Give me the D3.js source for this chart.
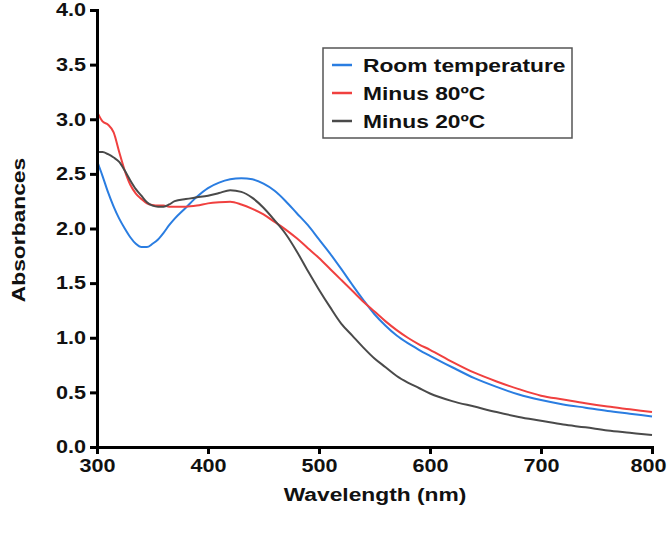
<!DOCTYPE html>
<html>
<head>
<meta charset="utf-8">
<script src="https://cdn.jsdelivr.net/npm/d3@7"></script>
<style>
  html, body { margin: 0; padding: 0; background: #fff; }
  svg { display: block; }
  text { font-family: "Liberation Sans", Arial, sans-serif; font-weight: bold; fill: #111; }
</style>
</head>
<body>
<svg id="chart" width="669" height="535"></svg>
<script>
// ---- data ----
const wavelengths = [300,305,310,315,320,325,330,335,340,345,350,355,360,365,370,380,390,400,410,420,430,440,450,460,470,480,490,500,510,520,530,540,550,560,570,580,590,600,620,640,660,680,700,720,740,760,780,800];
const roomTemperature = [2.62,2.48,2.33,2.20,2.09,2.00,1.92,1.86,1.83,1.83,1.86,1.90,1.96,2.03,2.09,2.19,2.29,2.37,2.42,2.45,2.46,2.45,2.41,2.345,2.25,2.14,2.03,1.90,1.77,1.63,1.485,1.345,1.215,1.11,1.02,0.95,0.89,0.835,0.73,0.63,0.55,0.48,0.43,0.39,0.36,0.33,0.305,0.28];
const minus80 = [3.07,2.98,2.95,2.88,2.70,2.53,2.40,2.32,2.27,2.23,2.215,2.21,2.21,2.20,2.20,2.20,2.21,2.23,2.24,2.245,2.22,2.18,2.13,2.06,1.99,1.91,1.82,1.73,1.63,1.53,1.43,1.33,1.24,1.15,1.07,1.00,0.94,0.89,0.78,0.68,0.60,0.53,0.47,0.435,0.40,0.37,0.345,0.32];
const minus20 = [2.70,2.70,2.68,2.65,2.61,2.53,2.44,2.36,2.30,2.24,2.21,2.20,2.20,2.22,2.25,2.27,2.285,2.30,2.325,2.35,2.335,2.28,2.19,2.075,1.95,1.79,1.61,1.44,1.28,1.13,1.02,0.91,0.81,0.73,0.65,0.59,0.54,0.49,0.42,0.37,0.32,0.275,0.24,0.205,0.18,0.15,0.13,0.11];
const seriesNames = ["Room temperature", "Minus 80ºC", "Minus 20ºC"];
const seriesColors = ["#2a7de1", "#f0403f", "#4a4a4a"];
const xTicks = [300,400,500,600,700,800];
const yTicks = [0,0.5,1,1.5,2,2.5,3,3.5,4];

const series = [roomTemperature, minus80, minus20].map((vals, i) => ({
  name: seriesNames[i], color: seriesColors[i],
  points: wavelengths.map((w, j) => ({w: w, a: vals[j]}))
}));

// ---- layout ----
const SX = 1.2; // horizontal text stretch seen in the reference
const svg = d3.select("#chart");
const x = d3.scaleLinear().domain([300, 800]).range([97, 652]);
const y = d3.scaleLinear().domain([0, 4]).range([447, 10]);

// lines
const line = d3.line().x(d => x(d.w)).y(d => y(d.a)).curve(d3.curveMonotoneX);
svg.append("g").selectAll("path").data(series).join("path")
  .attr("d", d => line(d.points))
  .attr("fill", "none")
  .attr("stroke", d => d.color)
  .attr("stroke-width", 2);

// axes
const yAxis = svg.append("g").attr("transform", "translate(97,0)")
  .call(d3.axisLeft(y).tickValues(yTicks).tickFormat(d3.format(".1f")).tickSize(7).tickSizeOuter(0));
const xAxis = svg.append("g").attr("transform", "translate(0,447)")
  .call(d3.axisBottom(x).tickValues(xTicks).tickFormat(d3.format("d")).tickSize(7).tickSizeOuter(0));

[yAxis, xAxis].forEach(g => {
  g.select(".domain").attr("stroke", "#000").attr("stroke-width", 3).attr("stroke-linecap", "square");
  g.selectAll(".tick line").attr("stroke", "#000").attr("stroke-width", 3);
  g.selectAll(".tick text").attr("font-size", 18).attr("fill", "#111")
    .style("font-family", "'Liberation Sans', Arial, sans-serif").style("font-weight", "bold");
});
yAxis.selectAll(".tick text").attr("x", -11 / SX).attr("transform", `scale(${SX},1)`);
xAxis.selectAll(".tick text").attr("y", 12).attr("transform", `scale(${SX},1)`)
  .attr("x", d => d === 800 ? -4 / SX : 0);

// axis titles
svg.append("g").attr("transform", "translate(375,501)")
  .append("text").attr("text-anchor", "middle").attr("font-size", 19)
  .attr("transform", `scale(${SX},1)`).text("Wavelength (nm)");
svg.append("g").attr("transform", "translate(25,230) rotate(-90)")
  .append("text").attr("text-anchor", "middle").attr("font-size", 19)
  .attr("transform", `scale(${SX},1)`).text("Absorbances");

// legend
const legend = svg.append("g");
legend.append("rect").attr("x", 323).attr("y", 48).attr("width", 249).attr("height", 90)
  .attr("fill", "#fff").attr("stroke", "#555").attr("stroke-width", 1.5);
const items = legend.selectAll("g.item").data(series).join("g")
  .attr("class", "item")
  .attr("transform", (d, i) => `translate(332,${65 + i * 28})`);
items.append("line").attr("x1", 0).attr("x2", 20).attr("y1", 0).attr("y2", 0)
  .attr("stroke", d => d.color).attr("stroke-width", 2.5);
items.append("g").attr("transform", "translate(31,7)")
  .append("text").attr("font-size", 19).attr("transform", `scale(${SX},1)`)
  .text(d => d.name);
</script>
</body>
</html>
